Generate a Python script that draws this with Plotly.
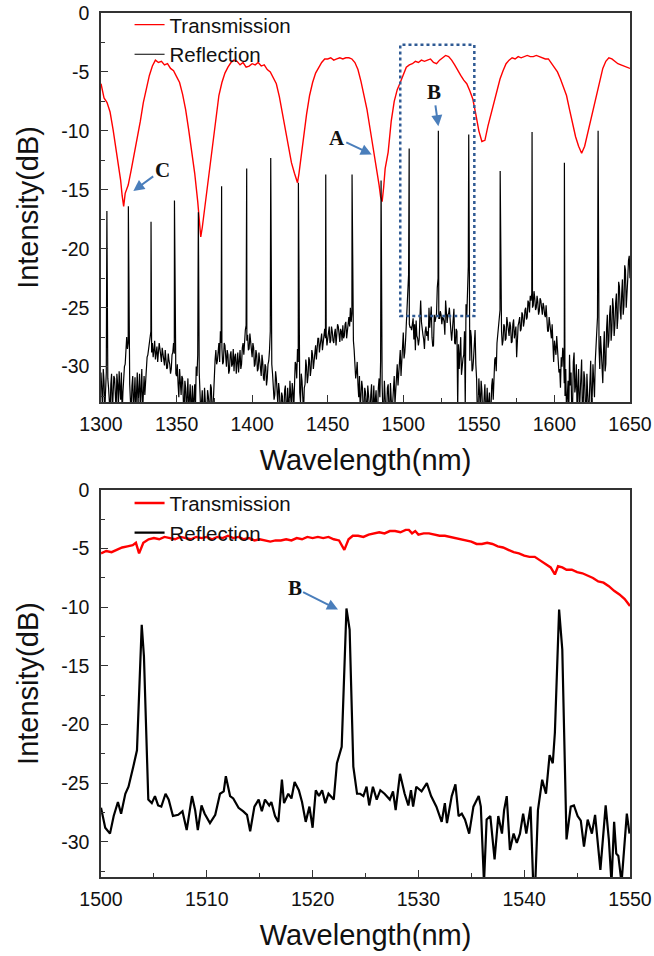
import plotly.graph_objects as go

# ---------------- Top panel data (1300-1650 nm) ----------------
top_trans_x = [1300, 1302, 1304, 1306, 1308, 1310, 1312, 1313, 1314, 1315, 1316, 1317, 1318,
               1320, 1322, 1324, 1326, 1328, 1330, 1332, 1334, 1336, 1338, 1340, 1342, 1344,
               1346, 1348, 1350, 1352, 1354, 1356, 1358, 1360, 1362, 1364, 1365, 1366, 1367,
               1368, 1370, 1372, 1374, 1376, 1378, 1380, 1382, 1384, 1386, 1388, 1390, 1392,
               1394, 1396, 1398, 1400, 1402, 1404, 1406, 1408, 1410, 1412, 1414, 1416, 1418,
               1420, 1422, 1424, 1426, 1428, 1430, 1431, 1432, 1434, 1436, 1438, 1440, 1442,
               1444, 1446, 1448, 1450, 1452, 1454, 1456, 1458, 1460, 1462, 1464, 1466, 1468,
               1470, 1472, 1474, 1476, 1478, 1480, 1482, 1484, 1485, 1486, 1487, 1488, 1490,
               1492, 1494, 1496, 1498, 1500, 1502, 1504, 1506, 1508, 1510, 1512, 1514, 1516,
               1518, 1520, 1522, 1524, 1526, 1528, 1530, 1532, 1534, 1536, 1538, 1540, 1542,
               1544, 1546, 1548, 1550, 1552, 1554, 1556, 1558, 1560, 1562, 1564, 1566, 1568,
               1570, 1572, 1574, 1576, 1578, 1580, 1582, 1584, 1586, 1588, 1590, 1592, 1594,
               1596, 1598, 1600, 1602, 1604, 1606, 1608, 1610, 1612, 1614, 1616, 1618, 1620,
               1622, 1624, 1626, 1628, 1630, 1632, 1634, 1636, 1638, 1640, 1642, 1644, 1646,
               1648, 1650]
top_trans_y = [-6.0, -7.2, -7.6, -8.4, -9.9, -11.5, -13.1, -14.2, -15.5, -16.4, -15.3, -14.9, -14.6,
               -13.3, -12.0, -10.6, -9.2, -7.6, -6.4, -5.3, -4.5, -4.0, -4.2, -4.1, -4.4, -4.3,
               -4.7, -4.9, -5.4, -5.9, -6.9, -8.2, -9.9, -11.6, -13.6, -16.0, -17.6, -19.0, -18.2,
               -17.2, -15.0, -13.0, -10.8, -8.8, -7.0, -5.9, -5.1, -4.6, -4.2, -4.0, -4.1, -4.4,
               -4.2, -4.6, -4.5, -4.3, -4.4, -4.2, -4.5, -4.4, -4.8, -5.0, -5.5, -6.0, -7.1,
               -8.5, -10.1, -11.6, -12.7, -13.6, -14.4, -13.6, -12.5, -10.7, -8.6, -7.0, -5.9, -5.1,
               -4.6, -4.2, -3.9, -3.9, -3.8, -4.0, -3.9, -3.8, -3.9, -3.8, -3.8, -3.9, -4.2,
               -4.8, -5.8, -7.0, -8.2, -9.8, -11.4, -12.8, -14.6, -15.6, -16.0, -14.8, -13.2, -11.8,
               -9.2, -7.5, -6.5, -5.9, -5.2, -4.6, -4.4, -4.3, -4.1, -4.2, -4.0, -4.1, -4.0,
               -3.9, -4.2, -4.3, -4.0, -3.8, -3.6, -3.7, -4.0, -4.4, -4.9, -5.3, -5.7, -6.0,
               -6.6, -7.3, -8.6, -10.0, -10.9, -10.8, -9.6, -8.6, -7.6, -6.4, -5.6, -4.9, -4.3,
               -4.0, -3.8, -3.9, -3.7, -3.8, -3.7, -3.6, -3.7, -3.7, -3.6, -3.7, -3.8, -3.9,
               -3.9, -4.3, -4.6, -5.0, -5.6, -6.3, -7.0, -8.2, -9.4, -10.5, -11.3, -11.9, -11.3,
               -10.2, -9.1, -8.0, -7.0, -5.9, -4.7, -4.1, -3.8, -3.9, -4.1, -4.3, -4.4, -4.5,
               -4.6, -4.7]

# Reflection background, read every 1 nm from 1300 to 1650
top_refl_floor_start = 1300
top_refl_floor = [
    -30.5, -33.5, -31.2, -32.0, -29.5, -31.8, -34.0, -30.6, -32.5, -31.0,
    -33.8, -31.5, -30.4, -32.8, -34.0, -31.0, -29.8, -27.5, -28.0, -31.5,
    -33.5, -30.8, -32.2, -34.0, -30.5, -31.8, -33.6, -30.2, -31.5, -32.4,
    -30.0, -29.0, -28.2, -27.0, -28.0, -28.6, -29.4, -28.3, -29.0, -28.5,
    -29.6, -28.8, -29.9, -29.2, -30.1, -29.5, -30.6, -29.0, -28.0, -29.8,
    -30.8, -31.5, -30.2, -32.4, -31.0, -33.8, -31.8, -32.6, -34.0, -31.5,
    -33.0, -34.0, -31.5, -30.0, -29.0, -30.5, -34.0, -32.0, -34.0, -33.2,
    -34.0, -32.5, -34.0, -31.8, -33.5, -30.2, -28.6, -29.5, -28.0, -27.0,
    -28.4, -29.6, -28.2, -30.0, -29.0, -30.3, -28.7, -29.8, -30.4, -28.9,
    -29.5, -30.5, -28.6, -29.8, -28.0, -27.6, -26.5, -27.3, -28.5, -27.9,
    -29.2, -28.4, -29.8, -29.0, -30.2, -29.4, -30.8, -29.6, -31.2, -30.0,
    -31.0, -29.5, -27.0, -29.8, -31.5, -32.4, -31.0, -33.2, -32.0, -34.0,
    -32.5, -33.8, -31.6, -34.0, -32.8, -31.2, -33.6, -32.0, -30.5, -29.8,
    -28.5, -30.8, -33.0, -31.2, -34.0, -31.5, -30.0, -30.8, -29.5, -30.2,
    -29.0, -29.6, -28.2, -28.8, -27.6, -28.2, -27.2, -27.8, -26.8, -27.2,
    -27.6, -26.6, -27.8, -27.0, -28.0, -26.8, -27.5, -26.6, -27.9, -27.0,
    -26.5, -27.4, -26.2, -26.9, -25.8, -25.0, -25.5, -27.8, -29.5, -30.5,
    -31.5, -30.8, -32.5, -31.8, -33.5, -32.2, -34.0, -32.8, -34.0, -31.5,
    -33.6, -34.0, -32.0, -33.8, -31.0, -29.5, -31.5, -34.0, -32.6, -33.8,
    -31.5, -34.0, -32.2, -33.0, -30.8, -32.0, -29.8, -30.6, -28.6, -29.4,
    -27.1, -28.8, -26.0, -24.0, -26.4, -26.6, -26.2, -27.7, -28.6, -27.4,
    -28.2, -25.9, -26.2, -27.3, -28.5, -26.6, -27.0, -25.0, -26.0, -27.5,
    -28.2, -26.2, -25.5, -22.5, -25.9, -25.6, -25.8, -26.2, -24.4, -26.3,
    -25.5, -26.5, -27.8, -25.6, -28.0, -26.8, -33.5, -30.2, -27.5, -29.5,
    -29.0, -33.5, -25.8, -21.5, -29.5, -27.5, -30.2, -28.0, -29.8, -34.0,
    -31.0, -33.8, -32.0, -34.0, -31.5, -33.5, -34.0, -32.2, -33.8, -31.0,
    -30.5, -29.2, -28.0, -26.0, -25.2, -27.0, -27.8, -26.6, -27.6, -26.2,
    -27.4, -26.6, -27.9, -26.0, -27.2, -29.2, -26.5, -25.8, -26.8, -25.6,
    -26.2, -25.0, -25.8, -24.6, -24.0, -23.8, -24.8, -24.2, -25.0, -24.5,
    -25.3, -24.4, -25.6, -24.9, -25.8, -26.2, -27.0, -26.4, -27.6, -28.4,
    -27.8, -29.0, -28.2, -30.5, -31.8, -30.0, -29.0, -32.5, -34.0, -31.2,
    -29.0, -30.5, -33.5, -28.8, -31.6, -34.0, -30.2, -32.8, -29.4, -33.6,
    -31.0, -34.0, -31.8, -33.0, -29.5, -32.4, -31.0, -29.6, -27.5, -26.5,
    -30.2, -28.6, -31.4, -27.0, -29.8, -25.6, -27.8, -24.8, -26.9, -25.0,
    -26.5, -23.8, -25.8, -23.2, -26.0, -22.6, -24.8, -21.8, -24.0, -21.0,
    -22.5]

# Reflection background at the half-nm points (1300.5 ... 1649.5)
top_refl_floor_half = [
    -32.0, -30.2, -33.8, -30.5, -31.0, -33.2, -31.5, -34.0, -30.8, -32.6,
    -30.6, -33.6, -31.8, -30.5, -32.2, -30.0, -28.8, -28.5, -30.6, -33.0,
    -31.6, -34.0, -30.9, -32.5, -33.4, -30.6, -32.0, -34.0, -30.8, -31.2,
    -29.2, -28.5, -27.6, -28.8, -29.2, -27.8, -28.8, -29.6, -28.0, -29.4,
    -28.4, -29.5, -28.6, -30.2, -28.9, -29.8, -30.2, -28.8, -28.9, -30.6,
    -29.8, -32.6, -31.4, -30.8, -33.0, -31.2, -34.0, -31.0, -32.8, -33.6,
    -31.6, -32.8, -33.6, -30.8, -29.6, -32.2, -33.0, -34.0, -31.8, -34.0,
    -32.0, -34.0, -31.5, -33.8, -32.4, -29.4, -29.8, -28.2, -29.6, -28.0,
    -29.8, -28.0, -29.4, -28.6, -30.6, -29.0, -30.0, -28.5, -29.2, -30.6,
    -28.8, -29.4, -30.2, -28.4, -29.0, -26.9, -27.8, -28.6, -27.2, -28.8,
    -28.0, -30.0, -28.6, -30.4, -28.8, -30.0, -29.0, -31.0, -29.8, -31.6,
    -29.8, -28.6, -28.8, -30.6, -32.8, -30.4, -32.6, -31.4, -33.6, -32.2,
    -34.0, -32.0, -33.4, -31.8, -34.0, -32.6, -31.4, -33.8, -29.6, -31.0,
    -29.6, -32.2, -30.6, -33.2, -31.8, -29.4, -31.4, -29.2, -30.8, -28.6,
    -30.2, -28.4, -29.4, -27.6, -28.8, -27.4, -28.6, -27.0, -27.6, -28.2,
    -26.8, -28.0, -26.6, -27.8, -27.2, -28.2, -26.4, -27.6, -26.8, -27.8,
    -27.6, -26.4, -27.6, -25.8, -26.6, -26.2, -26.8, -28.6, -31.0, -29.6,
    -32.6, -33.6, -31.2, -34.0, -31.8, -33.8, -31.6, -34.0, -32.4, -33.8,
    -31.6, -32.8, -34.0, -31.8, -32.6, -30.8, -33.8, -31.2, -34.0, -31.8,
    -33.6, -31.4, -34.0, -31.6, -33.2, -30.4, -31.6, -29.2, -30.8, -27.8,
    -29.3, -27.8, -25.6, -22.2, -26.7, -26.9, -25.9, -26.4, -26.1, -27.6,
    -27.7, -24.4, -27.1, -27.7, -27.0, -27.4, -27.8, -26.7, -24.9, -28.3,
    -25.6, -25.9, -23.3, -25.9, -25.3, -26.4, -25.9, -27.3, -25.9, -25.6,
    -25.0, -27.0, -26.7, -25.1, -28.1, -27.0, -28.1, -27.8, -30.7, -29.3,
    -27.0, -24.7, -23.3, -24.0, -26.9, -30.4, -29.3, -26.9, -31.0, -34.0,
    -33.0, -31.2, -34.0, -32.6, -34.0, -31.8, -33.0, -34.0, -31.6, -32.8,
    -29.4, -30.4, -27.2, -25.6, -26.6, -28.2, -26.4, -27.8, -25.8, -27.0,
    -26.2, -28.0, -26.4, -27.6, -26.6, -27.4, -26.2, -27.0, -25.4, -26.6,
    -25.2, -26.0, -24.4, -25.4, -24.4, -25.0, -23.6, -25.2, -24.0, -25.6,
    -24.2, -25.4, -24.6, -25.6, -24.8, -27.0, -25.8, -27.4, -26.4, -29.6,
    -28.6, -27.4, -29.8, -30.2, -29.2, -28.4, -31.4, -30.2, -32.6, -34.0,
    -31.6, -34.0, -29.6, -32.2, -29.8, -31.8, -34.0, -30.6, -34.0, -30.4,
    -33.6, -30.6, -34.0, -30.4, -33.6, -29.8, -32.6, -28.4, -25.8, -28.4,
    -27.4, -31.2, -28.6, -30.4, -26.8, -28.4, -25.6, -27.8, -24.2, -27.4,
    -24.6, -26.8, -22.8, -25.2, -23.8, -25.6, -21.4, -25.0, -22.6, -20.6]

# Reflection peaks (top panel)
top_peak_x = [1303.9, 1318.1, 1333.1, 1348.6, 1364.4, 1379.8, 1396.4, 1412.3, 1430.6, 1448.7,
              1466.1, 1485.3, 1503.9, 1523.2, 1543.3, 1564.1, 1585.2, 1606.6, 1628.9]
top_peak_y = [-16.8, -16.4, -17.7, -15.9, -16.9, -14.7, -13.2, -12.3, -14.4, -13.7,
              -13.7, -14.2, -11.5, -10.0, -10.3, -13.4, -10.1, -12.7, -10.0]

# ---------------- Bottom panel data (1500-1550 nm) ----------------
bot_trans_x = [1500, 1500.5, 1501, 1501.5, 1502, 1502.5, 1503, 1503.3, 1503.6, 1504, 1504.5, 1505,
               1505.5, 1506, 1506.5, 1507, 1507.5, 1508, 1508.5, 1509, 1509.5, 1510, 1510.5, 1511,
               1511.5, 1512, 1512.5, 1513, 1513.5, 1514, 1514.5, 1515, 1515.5, 1516, 1516.5, 1517,
               1517.5, 1518, 1518.5, 1519, 1519.5, 1520, 1520.5, 1521, 1521.5, 1522, 1522.5, 1523,
               1523.4, 1523.8, 1524.3, 1524.8, 1525.3, 1525.8, 1526.3, 1526.8, 1527.3, 1527.8, 1528.3,
               1528.8, 1529.1, 1529.4, 1529.7, 1530, 1530.5, 1531, 1531.5, 1532, 1532.5, 1533, 1533.5,
               1534, 1534.5, 1535, 1535.5, 1536, 1536.5, 1537, 1537.5, 1538, 1538.5, 1539, 1539.5,
               1540, 1540.5, 1541, 1541.5, 1542, 1542.5, 1542.9, 1543.2, 1543.6, 1544, 1544.5, 1545,
               1545.5, 1546, 1546.5, 1547, 1547.5, 1548, 1548.5, 1549, 1549.5, 1550]
bot_trans_y = [-5.4, -5.2, -5.3, -5.1, -4.9, -4.8, -4.7, -4.5, -5.4, -4.5, -4.2, -4.1,
               -4.2, -4.0, -4.1, -4.2, -4.0, -4.1, -4.2, -4.0, -4.1, -4.0, -4.2, -4.0,
               -4.1, -3.9, -4.1, -4.0, -4.2, -4.1, -4.3, -4.2, -4.3, -4.4, -4.3, -4.3,
               -4.2, -4.3, -4.1, -4.2, -4.0, -4.1, -4.0, -4.1, -4.0, -4.2, -4.3, -5.1,
               -4.2, -3.9, -3.9, -4.0, -3.8, -3.7, -3.6, -3.7, -3.5, -3.5, -3.6,
               -3.4, -3.4, -3.7, -3.5, -3.8, -3.7, -3.7, -3.8, -3.9, -3.9, -4.0, -4.1,
               -4.2, -4.3, -4.4, -4.6, -4.6, -4.5, -4.6, -4.8, -4.9, -5.1, -5.3, -5.4,
               -5.6, -5.7, -5.7, -6.0, -6.3, -6.6, -7.2, -6.5, -6.6, -6.8, -6.8, -7.0,
               -7.1, -7.3, -7.5, -7.8, -7.9, -8.2, -8.6, -8.9, -9.3, -9.9]

bot_refl_x = [1500.0, 1500.4, 1500.85, 1501.2, 1501.6, 1501.9, 1502.3, 1502.6, 1503.05, 1503.4,
              1503.85, 1504.06, 1504.47, 1504.8, 1505.1, 1505.4, 1505.7, 1506.1, 1506.4, 1506.8,
              1507.3, 1507.7, 1508.1, 1508.6, 1508.9, 1509.15, 1509.5, 1509.8, 1510.3, 1510.8,
              1511.25, 1511.6, 1511.8, 1512.2, 1512.5, 1513.0, 1513.45, 1513.8, 1514.1, 1514.5,
              1514.9, 1515.2, 1515.5, 1515.9, 1516.1, 1516.45, 1516.76, 1517.1, 1517.3, 1517.7,
              1518.0, 1518.3, 1518.7, 1519.0, 1519.35, 1519.7, 1520.0, 1520.3, 1520.6, 1520.9,
              1521.2, 1521.5, 1522.0, 1522.3, 1522.75, 1523.2, 1523.5, 1523.85, 1524.2, 1524.5,
              1524.8, 1525.1, 1525.35, 1525.7, 1526.06, 1526.4, 1526.8, 1527.3, 1527.6, 1527.85,
              1528.26, 1528.7, 1529.05, 1529.3, 1529.5, 1529.8, 1530.3, 1530.8, 1531.2, 1531.7,
              1532.2, 1532.5, 1532.7, 1533.15, 1533.5, 1533.8, 1534.1, 1534.4, 1534.8, 1535.2,
              1535.7, 1535.9, 1536.2, 1536.45, 1536.8, 1537.2, 1537.55, 1537.9, 1538.1, 1538.35,
              1538.65, 1539.0, 1539.3, 1539.6, 1539.9, 1540.2, 1540.6, 1540.85, 1541.05, 1541.3,
              1541.7, 1542.06, 1542.4, 1542.7, 1542.9, 1543.3, 1543.6, 1544.0, 1544.4, 1544.7,
              1545.05, 1545.35, 1545.65, 1546.0, 1546.4, 1546.7, 1547.2, 1547.7, 1548.0, 1548.25,
              1548.5, 1548.7, 1548.9, 1549.2, 1549.7, 1549.95]
bot_refl_y = [-27.1, -28.8, -29.3, -27.8, -26.6, -27.6, -25.9, -25.3, -23.6, -22.2,
              -11.5, -14.2, -26.4, -26.7, -26.1, -26.9, -27.0, -25.9, -26.4, -27.8,
              -27.7, -27.4, -29.0, -26.1, -27.3, -29.0, -26.9, -27.6, -28.4, -27.7,
              -25.9, -25.7, -24.4, -26.1, -26.3, -27.1, -27.4, -27.7, -29.1, -27.0,
              -26.4, -27.4, -26.4, -26.9, -26.6, -27.8, -28.3, -24.7, -26.7, -25.9,
              -26.3, -24.9, -25.6, -26.6, -28.3, -27.0, -28.8, -25.6, -26.1, -25.6,
              -26.7, -25.9, -26.4, -23.3, -21.9, -10.1, -11.9, -23.6, -25.9, -25.9,
              -26.1, -25.3, -26.9, -25.3, -26.4, -25.6, -25.9, -26.4, -25.7, -27.3,
              -24.2, -25.9, -26.9, -25.6, -27.0, -25.3, -25.7, -25.0, -26.1, -27.0,
              -28.3, -26.7, -28.4, -26.1, -25.1, -27.8, -27.6, -28.1, -29.3, -27.0,
              -26.1, -27.0, -33.5, -28.1, -27.8, -31.5, -27.8, -29.3, -27.3, -26.1,
              -30.7, -29.3, -30.1, -29.3, -27.6, -29.3, -27.0, -33.5, -33.5, -27.3,
              -24.7, -25.9, -22.6, -23.3, -20.7, -10.2, -13.6, -29.8, -27.0, -26.9,
              -27.8, -28.2, -30.4, -28.1, -29.3, -27.7, -32.4, -26.9, -29.8, -33.5,
              -28.3, -31.0, -31.2, -33.5, -27.6, -29.3]

# Axis ticks
top_x_ticks = [1300, 1350, 1400, 1450, 1500, 1550, 1600, 1650]
bot_x_ticks = [1500, 1510, 1520, 1530, 1540, 1550]
y_tick_vals = [0, -5, -10, -15, -20, -25, -30]
y_tick_text = ["0", "-5", "-10", "-15", "-20", "-25", "-30"]

# Annotations: label, text position (x, y), arrow head (x, y), panel
marks = [
    ("C", 1340.5, -13.3, 1321.4, -15.1, 1),
    ("A", 1456.0, -10.6, 1479.1, -12.0, 1),
    ("B", 1520.0, -6.7, 1523.2, -9.6, 1),
    ("B", 1518.3, -8.35, 1522.4, -10.2, 2),
]
box_x = [1498, 1547]
box_y = [-25.7, -2.7]

# ---------------- Build figure ----------------
floor_x = [top_refl_floor_start + i for i in range(len(top_refl_floor))]
half_x = [top_refl_floor_start + 0.5 + i for i in range(len(top_refl_floor_half))]
pairs = sorted(list(zip(floor_x, top_refl_floor)) + list(zip(half_x, top_refl_floor_half))
               + list(zip(top_peak_x, top_peak_y)))
top_refl_x = [p[0] for p in pairs]
top_refl_y = [p[1] for p in pairs]

RED = "#ff0000"
FONT = "Liberation Sans, Arial, sans-serif"

fig = go.Figure()
fig.add_trace(go.Scatter(x=top_trans_x, y=top_trans_y, mode="lines", name="Transmission",
                         line=dict(color=RED, width=1.4), xaxis="x", yaxis="y", legend="legend"))
fig.add_trace(go.Scatter(x=top_refl_x, y=top_refl_y, mode="lines", name="Reflection",
                         line=dict(color="black", width=1.2), xaxis="x", yaxis="y", legend="legend"))
fig.add_trace(go.Scatter(x=bot_trans_x, y=bot_trans_y, mode="lines", name="Transmission",
                         line=dict(color=RED, width=2.4), xaxis="x2", yaxis="y2", legend="legend2"))
fig.add_trace(go.Scatter(x=bot_refl_x, y=bot_refl_y, mode="lines", name="Reflection",
                         line=dict(color="black", width=2.2), xaxis="x2", yaxis="y2", legend="legend2"))

top_dom = [0.5498, 1.0]
bot_dom = [0.0, 0.4479]

axis_common = dict(showline=True, linecolor="#333333", linewidth=1.5, mirror=True,
                   ticks="inside", ticklen=7, tickwidth=1.3, tickcolor="#333333",
                   showgrid=False, zeroline=False, automargin=False,
                   tickfont=dict(family=FONT, size=19.5, color="#111111"))

title_font = dict(family=FONT, size=29, color="#111111")

fig.update_layout(
    template="none",
    width=654, height=956,
    margin=dict(l=101, r=24, t=13, b=79, autoexpand=False),
    paper_bgcolor="white", plot_bgcolor="white",
    showlegend=True,
    xaxis=dict(domain=[0, 1], anchor="y", range=[1300, 1650], tickvals=top_x_ticks,
               ticklabelstandoff=4,
               minor=dict(dtick=25, tick0=1300, ticks="inside", ticklen=4, tickcolor="#333333"),
               title=dict(text="Wavelength(nm)", font=title_font, standoff=16), **axis_common),
    yaxis=dict(domain=top_dom, anchor="x", range=[-33, 0], tickvals=y_tick_vals, ticktext=y_tick_text,
               ticklabelstandoff=6,
               minor=dict(dtick=2.5, tick0=0, ticks="inside", ticklen=4, tickcolor="#333333"),
               title=dict(text="Intensity(dB)", font=title_font, standoff=14), **axis_common),
    xaxis2=dict(domain=[0, 1], anchor="y2", range=[1500, 1550], tickvals=bot_x_ticks,
                ticklabelstandoff=4,
                minor=dict(dtick=5, tick0=1500, ticks="inside", ticklen=4, tickcolor="#333333"),
                title=dict(text="Wavelength(nm)", font=title_font, standoff=16), **axis_common),
    yaxis2=dict(domain=bot_dom, anchor="x2", range=[-33, 0], tickvals=y_tick_vals, ticktext=y_tick_text,
                ticklabelstandoff=6,
                minor=dict(dtick=2.5, tick0=0, ticks="inside", ticklen=4, tickcolor="#333333"),
                title=dict(text="Intensity(dB)", font=title_font, standoff=14), **axis_common),
    legend=dict(x=0.054, y=1.0095, xanchor="left", yanchor="top", bgcolor="rgba(0,0,0,0)",
                font=dict(family=FONT, size=20.5, color="#111111"), tracegroupgap=0),
    legend2=dict(x=0.054, y=bot_dom[1] + 0.008, xanchor="left", yanchor="top", bgcolor="rgba(0,0,0,0)",
                 font=dict(family=FONT, size=20.5, color="#111111"), tracegroupgap=0),
)

for label, tx, ty, hx, hy, panel in marks:
    xr = "x" if panel == 1 else "x2"
    yr = "y" if panel == 1 else "y2"
    fig.add_annotation(x=hx, y=hy, xref=xr, yref=yr, ax=tx, ay=ty, axref=xr, ayref=yr,
                       text="<b>%s</b>" % label, showarrow=True, arrowhead=2, arrowsize=1.1,
                       arrowwidth=2, arrowcolor="#4a7ebb",
                       font=dict(family="Liberation Serif, Times New Roman, serif", size=21, color="#111111"))

fig.add_shape(type="rect", xref="x", yref="y", x0=box_x[0], x1=box_x[1], y0=box_y[0], y1=box_y[1],
              line=dict(color="#2f5a94", width=2.5, dash="dot"))

fig.write_html("out.html", config={"displayModeBar": False},
               post_script="document.body.style.margin='0px';")
